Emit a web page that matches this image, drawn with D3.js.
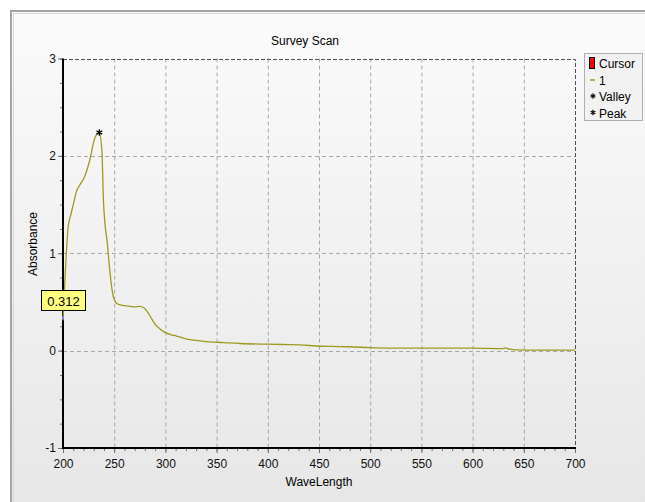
<!DOCTYPE html>
<html>
<head>
<meta charset="utf-8">
<script src="https://d3js.org/d3.v7.min.js"></script>
<style>
  body { margin: 0; background: #ffffff; }
  svg { display: block; font-family: "Liberation Sans", Arial, sans-serif; }
</style>
</head>
<body>
<svg id="drawing_region"></svg>
<script>
// scan values
const wavelength = [200, 202, 205, 207.5, 210, 213, 217, 220, 226, 231, 235.5, 238, 239.5, 241, 243, 246, 249, 252, 256, 262, 270, 275, 279, 283, 287, 290, 295, 300, 305, 311, 321, 330, 340, 357, 373, 399, 420, 431, 451, 470, 480, 500, 520, 560, 600, 629, 632, 636, 643, 660, 700];
const absorbance = [0.312, 0.75, 1.27, 1.39, 1.5, 1.63, 1.71, 1.76, 1.95, 2.18, 2.24, 2.05, 1.54, 1.3, 1.13, 0.79, 0.56, 0.49, 0.47, 0.46, 0.45, 0.455, 0.44, 0.39, 0.32, 0.27, 0.22, 0.185, 0.165, 0.15, 0.118, 0.105, 0.093, 0.083, 0.073, 0.066, 0.062, 0.06, 0.045, 0.042, 0.04, 0.03, 0.025, 0.025, 0.025, 0.02, 0.028, 0.015, 0.008, 0.006, 0.005];

const xTicks = [200, 250, 300, 350, 400, 450, 500, 550, 600, 650, 700];
const yTicks = [-1, 0, 1, 2, 3];
const peak = [235.5, 2.24];
const cursor = [200, 0.312];
const legendItems = ["Cursor", "1", "Valley", "Peak"];

class ScanChart {

    constructor( config ) {
        this.config = config;
        this.init();
    }

    init() {
        let self = this;

        self.svg = d3.select( self.config.parent )
            .attr('width', self.config.width)
            .attr('height', self.config.height);

        const defs = self.svg.append('defs');
        const grad = defs.append('linearGradient')
            .attr('id', 'bg').attr('x1', 0).attr('y1', 0).attr('x2', 0).attr('y2', 1);
        grad.append('stop').attr('offset', '0%').attr('stop-color', '#fbfbfb');
        grad.append('stop').attr('offset', '100%').attr('stop-color', '#e6e6e6');

        // panel + frame
        self.svg.append('rect')
            .attr('x', 11).attr('y', 11)
            .attr('width', 660).attr('height', 520)
            .attr('fill', 'url(#bg)')
            .attr('stroke', '#a4a4a4')
            .attr('stroke-width', 2);
        self.svg.append('rect')
            .attr('x', 13.5).attr('y', 13.5)
            .attr('width', 660).attr('height', 520)
            .attr('fill', 'none')
            .attr('stroke', '#d8d8d8')
            .attr('stroke-width', 1);

        self.xscale = d3.scaleLinear().domain([200, 700]).range([63, 575]);
        self.yscale = d3.scaleLinear().domain([-1, 3]).range([448, 58.5]);
    }

    render() {
        let self = this;
        const xs = self.xscale, ys = self.yscale;
        const [x0, x1] = xs.range();
        const [y0, y1] = ys.range();

        // grid
        self.svg.append('g').selectAll('line')
            .data(xTicks.slice(1, -1))
            .join('line')
            .attr('x1', d => xs(d) + 0.5).attr('x2', d => xs(d) + 0.5)
            .attr('y1', y1).attr('y2', y0)
            .attr('stroke', '#a8a8a8')
            .attr('stroke-dasharray', '4,3');
        self.svg.append('g').selectAll('line')
            .data(yTicks.slice(1, -1))
            .join('line')
            .attr('x1', x0).attr('x2', x1)
            .attr('y1', d => Math.round(ys(d)) + 0.5).attr('y2', d => Math.round(ys(d)) + 0.5)
            .attr('stroke', '#a8a8a8')
            .attr('stroke-dasharray', '4,3');

        // top and right borders
        self.svg.append('path')
            .attr('d', `M${x0},${Math.round(y1) + 0.5}H${x1 + 0.5}V${y0}`)
            .attr('fill', 'none')
            .attr('stroke', '#505050')
            .attr('stroke-dasharray', '4,2');

        // axes
        const xAxis = d3.axisBottom(xs).tickValues(xTicks).tickSize(5).tickPadding(6).tickFormat(d => d);
        const xMinor = d3.axisBottom(xs).tickValues(d3.range(200, 701, 10)).tickSize(3).tickFormat('');
        const yAxis = d3.axisLeft(ys).tickValues(yTicks).tickSize(5).tickPadding(2).tickFormat(d => d);
        const yMinor = d3.axisLeft(ys).tickValues(d3.range(-1, 3.01, 0.25)).tickSize(3).tickFormat('');

        [xMinor, xAxis].forEach(ax => {
            const g = self.svg.append('g')
                .attr('transform', `translate(0, ${y0})`)
                .call(ax);
            g.select('.domain').remove();
            g.selectAll('line').attr('stroke', '#707070');
            g.selectAll('text').attr('font-size', '12px').attr('fill', '#111');
        });
        [yMinor, yAxis].forEach(ax => {
            const g = self.svg.append('g')
                .attr('transform', `translate(${x0}, 0)`)
                .call(ax);
            g.select('.domain').remove();
            g.selectAll('line').attr('stroke', '#707070');
            g.selectAll('text').attr('font-size', '12px').attr('fill', '#111');
        });

        self.svg.append('path')
            .attr('d', `M${x0},${y1}V${y0}H${x1 + 1}`)
            .attr('fill', 'none')
            .attr('stroke', '#000')
            .attr('stroke-width', 2);

        // curve
        const line = d3.line()
            .x((d, i) => xs(wavelength[i]))
            .y(d => ys(d))
            .curve(d3.curveMonotoneX);
        self.svg.append('path')
            .datum(absorbance)
            .attr('d', line)
            .attr('fill', 'none')
            .attr('stroke', '#9e9a20')
            .attr('stroke-width', 1.3);

        // peak marker
        self.svg.append('path')
            .attr('d', d3.symbol(d3.symbolAsterisk, 30)())
            .attr('transform', `translate(${xs(peak[0])}, ${ys(peak[1])})`)
            .attr('stroke', '#000')
            .attr('stroke-width', 1.3);

        // cursor
        self.svg.append('line')
            .attr('x1', xs(cursor[0])).attr('x2', xs(cursor[0]))
            .attr('y1', ys(cursor[1]) - 4).attr('y2', ys(cursor[1]) - 1)
            .attr('stroke', '#8080ff')
            .attr('stroke-width', 2);
        self.svg.append('rect')
            .attr('x', 41.5).attr('y', 290.5)
            .attr('width', 44).attr('height', 20)
            .attr('fill', '#ffff80')
            .attr('stroke', '#000');
        self.svg.append('text')
            .attr('x', 63.5).attr('y', 305.5)
            .attr('text-anchor', 'middle')
            .attr('font-size', '13px')
            .text(d3.format('.3f')(cursor[1]));

        // titles
        self.svg.append('text')
            .attr('x', 305).attr('y', 45)
            .attr('text-anchor', 'middle')
            .attr('font-size', '12px')
            .text('Survey Scan');
        self.svg.append('text')
            .attr('x', (x0 + x1) / 2).attr('y', 486)
            .attr('text-anchor', 'middle')
            .attr('font-size', '12px')
            .text('WaveLength');
        self.svg.append('text')
            .attr('transform', `translate(37, 244) rotate(-90)`)
            .attr('text-anchor', 'middle')
            .attr('font-size', '12px')
            .text('Absorbance');

        // legend
        const lg = self.svg.append('g').attr('transform', 'translate(584, 53)');
        lg.append('rect')
            .attr('x', 0.5).attr('y', 0.5)
            .attr('width', 58).attr('height', 67)
            .attr('fill', '#f2f2f2')
            .attr('stroke', '#b0b0b0');
        const item = lg.selectAll('g.item')
            .data(legendItems)
            .join('g')
            .attr('transform', (d, i) => `translate(0, ${10 + i * 16.5})`);
        item.append('text')
            .attr('x', 15).attr('y', 5)
            .attr('font-size', '12px')
            .text(d => d);
        lg.append('rect')
            .attr('x', 5.5).attr('y', 4.5)
            .attr('width', 5).attr('height', 11)
            .attr('fill', '#ff0000')
            .attr('stroke', '#000');
        lg.append('line')
            .attr('x1', 6).attr('x2', 11)
            .attr('y1', 27).attr('y2', 27)
            .attr('stroke', '#9e9a20')
            .attr('stroke-width', 1.5);
        [43, 59.5].forEach(y => {
            lg.append('path')
                .attr('d', d3.symbol(d3.symbolAsterisk, 20)())
                .attr('transform', `translate(9, ${y})`)
                .attr('stroke', '#000')
                .attr('stroke-width', 1.2);
        });
    }
}

const chart = new ScanChart({ parent: '#drawing_region', width: 645, height: 502 });
chart.render();
</script>
</body>
</html>
